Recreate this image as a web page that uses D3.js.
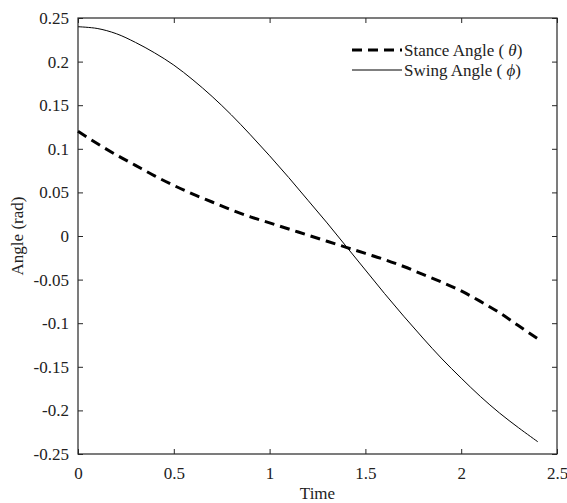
<!DOCTYPE html>
<html>
<head>
<meta charset="utf-8">
<script src="https://cdn.jsdelivr.net/npm/d3@7"></script>
<style>
	body { margin: 0; background: #fff; }
	text { font-family: "Liberation Serif", "Times New Roman", serif; fill: #222; }
</style>
</head>
<body>
<div id="chart"></div>
<script>
// time samples and the two angle series
let times = [0, 0.1, 0.2, 0.3, 0.4, 0.5, 0.6, 0.7, 0.8, 0.9, 1.0, 1.1, 1.2,
	1.3, 1.4, 1.5, 1.6, 1.7, 1.8, 1.9, 2.0, 2.1, 2.2, 2.3, 2.4];
let stanceAngle = [0.120, 0.106, 0.093, 0.081, 0.069, 0.058, 0.048, 0.039, 0.030,
	0.022, 0.015, 0.008, 0.001, -0.006, -0.013, -0.020, -0.027, -0.035, -0.044,
	-0.053, -0.063, -0.075, -0.088, -0.103, -0.118];
let swingAngle = [0.240, 0.238, 0.232, 0.222, 0.210, 0.196, 0.179, 0.160, 0.139,
	0.116, 0.092, 0.067, 0.041, 0.015, -0.012, -0.039, -0.066, -0.092, -0.117,
	-0.141, -0.163, -0.184, -0.203, -0.220, -0.236];
let xTicks = [0, 0.5, 1, 1.5, 2, 2.5];
let yTicks = [-0.25, -0.2, -0.15, -0.1, -0.05, 0, 0.05, 0.1, 0.15, 0.2, 0.25];

let drawChart = function(parent) {
	let margin = { top: 18, right: 10, bottom: 49, left: 78 };
	let width = 567 - margin.left - margin.right;
	let height = 503 - margin.top - margin.bottom;
	let tickLen = 5;
	let serif = "'Liberation Serif', 'Times New Roman', serif";

	let svg = d3.select(parent).append("svg")
		.attr("width", 567)
		.attr("height", 503);

	let g = svg.append("g")
		.attr("transform", `translate(${margin.left}, ${margin.top})`);

	let x = d3.scaleLinear().domain([0, 2.5]).range([0, width]);
	let y = d3.scaleLinear().domain([-0.25, 0.25]).range([height, 0]);

	//axes: ticks point inward, labels only bottom and left
	let fmt = d => String(d);
	let styleAxis = function(sel) {
		sel.select(".domain").remove();
		sel.selectAll("line").attr("stroke", "#262626");
		sel.selectAll("text")
			.style("font-family", serif)
			.style("font-size", "17px")
			.style("fill", "#222");
	};
	g.append("g")
		.attr("transform", `translate(0, ${height})`)
		.call(d3.axisBottom(x).tickValues(xTicks).tickSizeInner(-tickLen).tickSizeOuter(0)
			.tickPadding(13).tickFormat(fmt))
		.call(styleAxis);
	g.append("g")
		.call(d3.axisLeft(y).tickValues(yTicks).tickSizeInner(-tickLen).tickSizeOuter(0)
			.tickPadding(9).tickFormat(fmt))
		.call(styleAxis);
	g.append("g")
		.call(d3.axisTop(x).tickValues(xTicks).tickSizeInner(-tickLen).tickSizeOuter(0).tickFormat(""))
		.call(styleAxis);
	g.append("g")
		.attr("transform", `translate(${width}, 0)`)
		.call(d3.axisRight(y).tickValues(yTicks).tickSizeInner(-tickLen).tickSizeOuter(0).tickFormat(""))
		.call(styleAxis);

	g.append("rect")
		.attr("width", width)
		.attr("height", height)
		.attr("fill", "none")
		.attr("stroke", "#262626")
		.attr("stroke-width", 1.2);

	//data lines
	let line = d3.line()
		.x((d, i) => x(times[i]))
		.y(d => y(d))
		.curve(d3.curveCatmullRom);
	g.append("path")
		.attr("d", line(stanceAngle))
		.attr("fill", "none")
		.attr("stroke", "#000")
		.attr("stroke-width", 3)
		.attr("stroke-dasharray", "10,6");
	g.append("path")
		.attr("d", line(swingAngle))
		.attr("fill", "none")
		.attr("stroke", "#000")
		.attr("stroke-width", 1);

	//legend
	let legend = g.append("g").attr("transform", `translate(${width - 205}, 32)`);
	let legendItems = [
		{ name: "Stance Angle ( ", sym: "θ", dash: "10,6", w: 3 },
		{ name: "Swing Angle ( ", sym: "ϕ", dash: null, w: 1 }
	];
	legendItems.forEach((d, i) => {
		let row = legend.append("g").attr("transform", `translate(0, ${i * 20})`);
		row.append("line")
			.attr("x1", 0).attr("x2", 50)
			.attr("stroke", "#000")
			.attr("stroke-width", d.w)
			.attr("stroke-dasharray", d.dash);
		let t = row.append("text")
			.attr("x", 52)
			.attr("dy", "0.35em")
			.style("font-size", "17px");
		t.append("tspan").text(d.name);
		t.append("tspan").style("font-style", "italic").text(d.sym);
		t.append("tspan").text(")");
	});

	//axis labels
	svg.append("text")
		.attr("x", margin.left + width / 2)
		.attr("y", 499)
		.attr("text-anchor", "middle")
		.style("font-size", "17px")
		.text("Time");
	svg.append("text")
		.attr("transform", `translate(23, ${margin.top + height / 2}) rotate(-90)`)
		.attr("text-anchor", "middle")
		.style("font-size", "17px")
		.text("Angle (rad)");

	return svg.node();
};

drawChart(d3.select("#chart").node());
</script>
</body>
</html>
